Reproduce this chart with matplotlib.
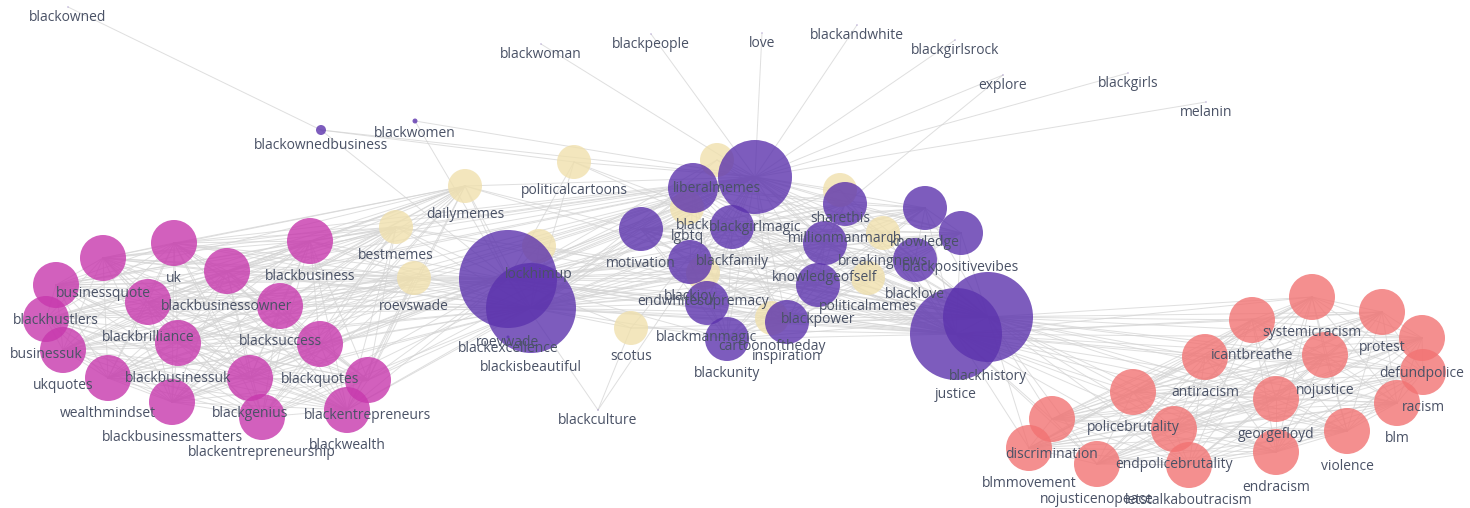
import numpy as np
import matplotlib.pyplot as plt
from itertools import combinations

# ---------------------------------------------------------------------------
# Hashtag co-occurrence network: node layout (x, y), node size and community
# ---------------------------------------------------------------------------

# business community (pink)
pinkNames = ['businessquote', 'uk', 'blackbusiness', 'blackbusinessowner',
             'blackhustlers', 'blackbrilliance', 'blacksuccess', 'businessuk',
             'ukquotes', 'blackbusinessuk', 'blackquotes', 'wealthmindset',
             'blackgenius', 'blackentrepreneurs', 'blackbusinessmatters',
             'blackentrepreneurship', 'blackwealth']
pinkX = [103, 174, 310, 227, 56, 148, 280, 46, 63, 178, 320, 108, 250, 368, 172, 262, 347]
pinkY = [258, 243, 241, 271, 285, 302, 306, 319, 350, 343, 344, 378, 378, 380, 402, 417, 410]
pinkSize = [23] * 17

# memes / politics community (beige)
beigeNames = ['politicalcartoons', 'dailymemes', 'bestmemes', 'roevswade',
              'lockhimup', 'scotus', 'liberalmemes', 'lgbtq',
              'endwhitesupremacy', 'cartoonoftheday', 'politicalmemes',
              'sharethis', 'breakingnews']
beigeX = [574, 465, 396, 414, 539, 631, 717, 687, 703, 772, 868, 840, 883]
beigeY = [162, 186, 227, 278, 246, 328, 160, 208, 273, 318, 278, 190, 233]
beigeSize = [17] * 13

# black culture community (purple)
purpleNames = ['blackexcellence', 'roevwade', 'blackisbeautiful', 'blackgirlmagic',
               'black', 'blackfamily', 'motivation', 'blackjoy', 'blackmanmagic',
               'blackunity', 'inspiration', 'knowledgeofself', 'blackpower',
               'millionmanmarch', 'blacklove', 'knowledge', 'blackpositivevibes',
               'justice', 'blackhistory', 'blackownedbusiness', 'blackwomen',
               'blackowned', 'blackwoman', 'blackpeople', 'love', 'blackandwhite',
               'blackgirlsrock', 'explore', 'blackgirls', 'melanin', 'blackculture']
purpleX = [508, 508, 531, 755, 693, 732, 641, 690, 707, 727, 787, 825, 818, 845,
           915, 925, 961, 956, 988, 321, 415, 68, 541, 651, 762, 857, 955, 1003,
           1128, 1206, 598]
purpleY = [337, 279, 308, 177, 188, 227, 229, 262, 303, 339, 322, 243, 285, 204,
           260, 208, 233, 334, 317, 130, 121, 7, 44, 34, 33, 25, 40, 75, 73, 102, 410]
purpleSize = [1.5, 49, 45, 37, 25, 22, 22, 22, 22, 22, 22, 22, 22, 22, 22, 22, 22,
              46, 45, 5, 2.5, 0.5, 0.5, 0.5, 0.5, 0.5, 0.5, 0.5, 0.5, 0.5, 0.5]

# racial justice community (salmon)
redNames = ['systemicracism', 'icantbreathe', 'protest', 'defundpolice', 'racism',
            'nojustice', 'antiracism', 'georgefloyd', 'blm', 'policebrutality',
            'violence', 'discrimination', 'blmmovement', 'endpolicebrutality',
            'endracism', 'nojusticenopeace', 'letstalkaboutracism']
redX = [1312, 1252, 1382, 1422, 1423, 1325, 1205, 1276, 1397, 1133, 1347, 1052,
        1029, 1174, 1276, 1097, 1189]
redY = [297, 320, 312, 338, 372, 355, 357, 399, 403, 392, 431, 419, 448, 429,
        452, 464, 465]
redSize = [23] * 17

# hubs that tie the communities together
hubs = ['roevwade', 'blackisbeautiful', 'blackgirlmagic', 'justice', 'blackhistory']
midCore = ['black', 'blackfamily', 'motivation', 'blackjoy', 'blackmanmagic',
           'blackunity', 'inspiration', 'knowledgeofself', 'blackpower',
           'millionmanmarch', 'blacklove', 'knowledge', 'blackpositivevibes']
outerLinks = [('blackowned', 'blackownedbusiness'),
              ('blackownedbusiness', 'blackgirlmagic'),
              ('blackownedbusiness', 'roevwade'),
              ('blackownedbusiness', 'politicalcartoons'),
              ('blackwomen', 'roevwade'), ('blackwomen', 'blackgirlmagic'),
              ('blackwoman', 'blackgirlmagic'), ('blackpeople', 'blackgirlmagic'),
              ('love', 'blackgirlmagic'), ('blackandwhite', 'blackgirlmagic'),
              ('blackgirlsrock', 'blackgirlmagic'), ('explore', 'blackgirlmagic'),
              ('explore', 'millionmanmarch'), ('blackgirls', 'blackgirlmagic'),
              ('melanin', 'blackgirlmagic'), ('blackculture', 'roevwade'),
              ('blackculture', 'blackgirlmagic'), ('blackculture', 'scotus')]

#Colours of each community (rgba, plotly-like with opacity)
colors = {'pink': (0.78, 0.22, 0.68, 0.8), 'beige': (0.94, 0.88, 0.68, 0.8),
          'purple': (0.36, 0.2, 0.68, 0.8), 'red': (0.95, 0.45, 0.45, 0.8)}

#Collect everything into one lookup
groups = [('pink', pinkNames, pinkX, pinkY, pinkSize),
          ('beige', beigeNames, beigeX, beigeY, beigeSize),
          ('purple', purpleNames, purpleX, purpleY, purpleSize),
          ('red', redNames, redX, redY, redSize)]
pos = {}
for g, names, xs, ys, rs in groups:
    for n, x, y, r in zip(names, xs, ys, rs):
        pos[n] = (x, y, r, g)

#Build the edge list
edges = []
edges += list(combinations(pinkNames, 2))
edges += list(combinations(redNames, 2))
edges += list(combinations(midCore, 2))
edges += list(combinations(hubs, 2))
for h in hubs:
    edges += [(h, n) for n in midCore + beigeNames if n != h]
edges += [(p, h) for p in pinkNames for h in ['roevwade', 'blackisbeautiful', 'blackgirlmagic']]
edges += [(p, b) for p in pinkNames for b in ['bestmemes', 'roevswade', 'dailymemes']]
edges += [(r, h) for r in redNames for h in ['justice', 'blackhistory']]
edges += outerLinks

W, H = 1470, 508
fig = plt.figure(figsize=(W / 100, H / 100), dpi=100)
ax = fig.add_axes([0, 0, 1, 1])
ax.set_xlim(0, W)
ax.set_ylim(H, 0)
ax.axis('off')

#draw the edges
for a, b in edges:
    xa, ya = pos[a][:2]
    xb, yb = pos[b][:2]
    ax.plot([xa, xb], [ya, yb], color='#d4d4d4', lw=0.7, alpha=0.75, zorder=1)

#draw the nodes (radius in px -> marker area in pt^2)
for g, names, xs, ys, rs in groups:
    s = [(2 * r * 0.72) ** 2 for r in rs]
    ax.scatter(xs, ys, s=s, color=colors[g], edgecolors='none', zorder=2)

#labels below each node
for n, (x, y, r, g) in pos.items():
    ax.text(x, y + r * 1.1 + 10, n, ha='center', va='center', fontsize=10,
            family=['Open Sans', 'DejaVu Sans'], color='#4a5266', zorder=3)

fig.savefig('out.png', dpi=100)
